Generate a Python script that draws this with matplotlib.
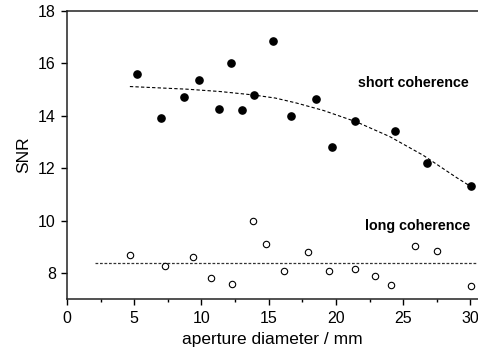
import numpy as np
import matplotlib.pyplot as plt

# short coherence (filled)
short_x = [5.23, 7.01, 8.72, 9.81, 11.30, 12.22, 12.99, 13.93, 15.34, 16.63,
           18.51, 19.70, 21.39, 24.36, 26.77, 30.04]
short_y = [15.57, 13.93, 14.72, 15.34, 14.24, 16.00, 14.22, 14.78, 16.84, 14.00,
           14.62, 12.81, 13.79, 13.40, 12.21, 11.32]

# fitted trend for short coherence
fit_x = [4.68, 8.90, 11.38, 13.85, 15.50, 17.08, 19.06, 21.54, 24.01, 26.49, 28.97, 30.09]
fit_y = [15.11, 15.01, 14.92, 14.79, 14.67, 14.48, 14.20, 13.76, 13.20, 12.49, 11.64, 11.28]

# long coherence (open)
long_x = [4.68, 7.26, 9.35, 10.68, 12.29, 13.80, 14.80, 16.13, 17.89, 19.45,
          21.41, 22.87, 24.12, 25.85, 27.54, 30.04]
long_y = [8.71, 8.29, 8.60, 7.80, 7.60, 10.00, 9.10, 8.10, 8.79, 8.10,
          8.14, 7.89, 7.56, 9.02, 8.85, 7.52]

xticks = [0, 5, 10, 15, 20, 25, 30]
yticks = [8, 10, 12, 14, 16, 18]

plt.rcParams['font.family'] = ['Liberation Sans', 'DejaVu Sans']

fig = plt.figure(figsize=(4.78, 3.56), dpi=100)
ax = fig.add_axes([0.140, 0.159, 0.860, 0.811])

ax.plot(fit_x, fit_y, color='black', lw=0.8, dashes=(3, 2))
ax.plot([2.1, 30.6], [np.mean(long_y)] * 2, color='#333333', lw=0.9, dashes=(2.2, 1.4))

ax.plot(short_x, short_y, 'o', color='black', ms=5.2, ls='none')
ax.plot(long_x, long_y, 'o', mfc='white', mec='black', mew=0.8, ms=4.6, ls='none')

ax.set_xlim(0, 30.56)
ax.set_ylim(7, 18)
ax.set_xticks(xticks)
ax.set_xticks(np.arange(2.5, 30, 5), minor=True)
ax.set_yticks(yticks)
ax.tick_params(axis='both', direction='out', labelsize=11.5, length=4.5, width=1)
ax.tick_params(axis='x', which='minor', direction='out', length=2.5, width=1)
ax.spines['right'].set_visible(False)
for s in ['left', 'top', 'bottom']:
    ax.spines[s].set_linewidth(1.1)
    ax.spines[s].set_color('#222222')

ax.set_xlabel('aperture diameter / mm', fontsize=12.5, labelpad=5)
ax.set_ylabel('SNR', fontsize=12.5, labelpad=5)

fig.text(469 / 478, 1 - 83 / 356, 'short coherence', ha='right', va='center',
         fontsize=10.3, fontweight='bold')
fig.text(470 / 478, 1 - 226 / 356, 'long coherence', ha='right', va='center',
         fontsize=10.3, fontweight='bold')

plt.savefig('out.png', dpi=100)
